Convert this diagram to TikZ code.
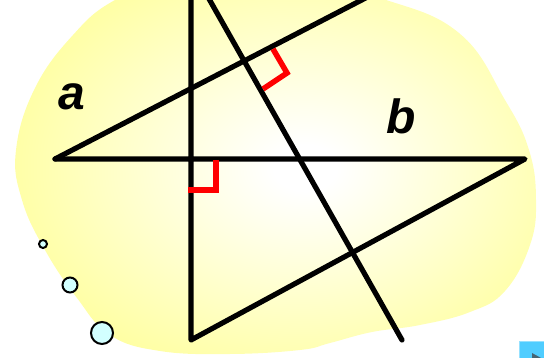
\documentclass[tikz,border=0pt]{standalone}
\usepackage{fontspec}
\setmainfont{Liberation Sans}
\definecolor{blobyellow}{RGB}{255,255,120}
\definecolor{bubblefill}{RGB}{210,255,255}
\definecolor{navblue}{RGB}{80,205,255}
\definecolor{navtri}{RGB}{70,100,115}
\pgfdeclareradialshading{blobshade}{\pgfpoint{3bp}{-1bp}}{color(0bp)=(white); color(3bp)=(white); color(40bp)=(blobyellow); color(100bp)=(blobyellow)}
\tikzset{
  thick line/.style={line width=5.2pt, line cap=round, line join=round, black},
  rightmark/.style={line width=5.5pt, red, line join=miter},
  bubble/.style={circle, draw=black, line width=2pt, fill=bubblefill, inner sep=0pt},
  label text/.style={font=\fontsize{48}{48}\selectfont\bfseries\itshape, inner sep=0pt},
}
\begin{document}
\begin{tikzpicture}[x=1pt,y=-1pt]
\useasboundingbox (0,0) rectangle (544,358);
% blob background
\shade[shading=blobshade] plot[smooth cycle, tension=0.7] coordinates {
 (73,35) (115,0) (180,-25) (270,-30) (380,-2) (459,33) (505,100) (529,150) (536,200)
 (530,245) (505,291) (470,312) (420,325) (372,332) (330,343) (300,350) (230,354)
 (160,351) (110,335) (77,298) (45,250) (22,200) (16,150) (35,88)};
% vertices
\coordinate (A) at (55,159);
\coordinate (B) at (525,159);
\coordinate (C) at (191,340);
\coordinate (Vtop) at (191,-10);
\coordinate (Atop) at (381,-10);
\coordinate (Dtop) at (204,-10);
\coordinate (Dbot) at (402,340);
% lines
\draw[thick line] (A) -- (B) -- (C) -- (Vtop);
\draw[thick line] (A) -- (Atop);
\draw[thick line] (Dtop) -- (Dbot);
% right-angle marks
\coordinate (m1a) at (216,160);
\coordinate (m1b) at (216,190);
\coordinate (m1c) at (188,190);
\draw[rightmark] (m1a) -- (m1b) -- (m1c);
\coordinate (m2a) at (273,49);
\coordinate (m2b) at (287,73);
\coordinate (m2c) at (263,89);
\draw[rightmark] (m2a) -- (m2b) -- (m2c);
% labels
\node[label text] (la) at (72,97) {a};
\node[label text] (lb) at (401,116) {b};
% bubbles
\node[bubble, minimum size=8pt] (b1) at (43,244) {};
\node[bubble, minimum size=15pt] (b2) at (70,285) {};
\node[bubble, minimum size=22pt] (b3) at (102,333) {};
% nav button
\node[fill=navblue, draw=navblue!60!white, line width=0.8pt, minimum width=28pt, minimum height=20pt, anchor=north west, inner sep=0pt] (nav) at (519,341) {};
\fill[navtri] (532,353) -- (532,364) -- (542,358.5) -- cycle;
\end{tikzpicture}
\end{document}
